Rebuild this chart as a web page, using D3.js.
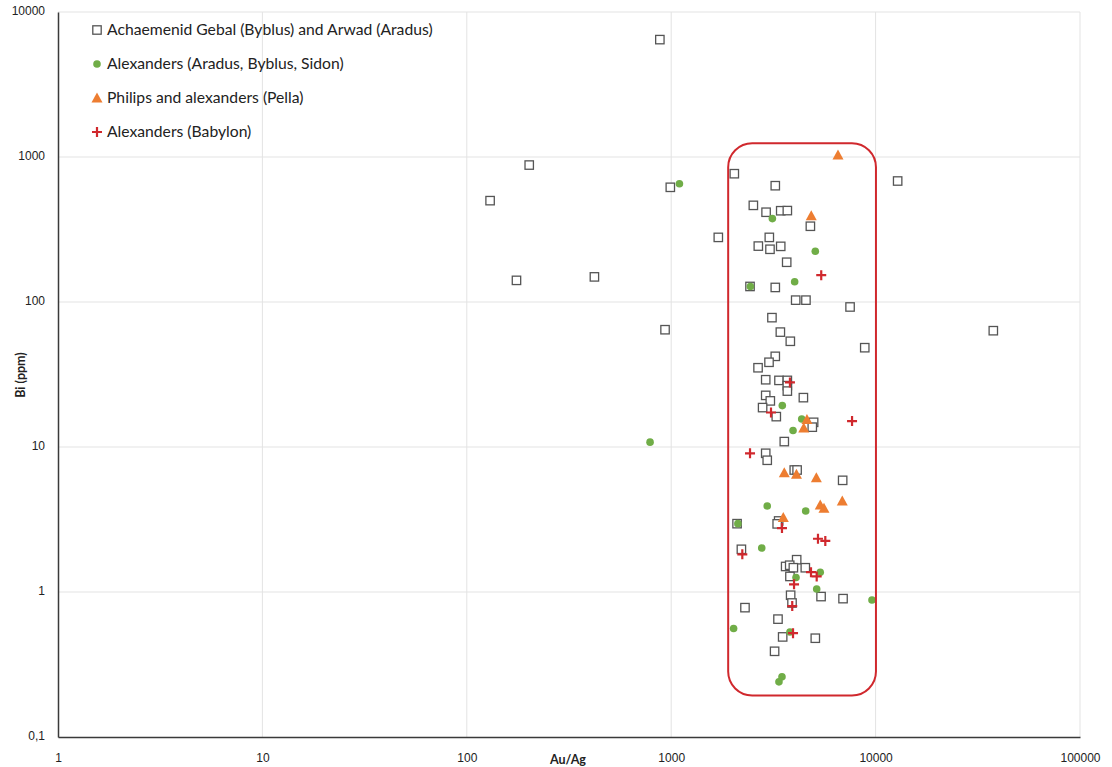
<!DOCTYPE html>
<html>
<head>
<meta charset="utf-8">
<script src="https://cdn.jsdelivr.net/npm/d3@7"></script>
<style>
  body { margin: 0; background: #fff; }
  svg { font-family: Lato, "Open Sans", sans-serif; }
</style>
</head>
<body>
<svg width="1112" height="767"></svg>
<script>
// Achaemenid Gebal (Byblus) and Arwad (Aradus) -- [Au/Ag, Bi]
var achaemenid = [
  [880, 6450], [202, 880], [130, 500], [175, 141], [421, 149], [990, 618], [933, 64.4],
  [2036, 767], [3230, 634], [12820, 683], [2523, 464], [2912, 416], [3434, 426], [3700, 427],
  [4796, 333], [1700, 279], [3020, 279], [2668, 243], [3043, 231], [3434, 242], [3673, 188],
  [2430, 128], [3230, 126], [4065, 103], [4563, 103], [7500, 92.4], [3111, 78], [3420, 62],
  [3826, 53.6], [8850, 48.4], [37660, 63.4], [3230, 42.2], [3010, 38.4], [2660, 35.2],
  [2900, 29.1], [3367, 28.8], [3700, 28.8], [3700, 26.5], [3700, 24.3], [2900, 22.7],
  [3054, 20.8], [4433, 21.9], [2800, 18.7], [3267, 16.2], [4975, 14.8], [4900, 13.7],
  [3575, 10.9], [2900, 9.05], [2950, 8.1], [4000, 6.94], [4130, 6.94], [6900, 5.89],
  [3355, 3.09], [3300, 2.95], [2100, 2.96], [2205, 1.97], [4110, 1.67], [3630, 1.50],
  [3800, 1.53], [3960, 1.47], [4530, 1.47], [3810, 1.28], [3840, 0.95], [5410, 0.93],
  [6930, 0.90], [2296, 0.78], [3900, 0.84], [3330, 0.65], [3510, 0.49], [5070, 0.48],
  [3205, 0.39]
];
// Alexanders (Aradus, Byblus, Sidon)
var alexPhoen = [
  [1097, 654], [3126, 376], [5070, 224], [2440, 128], [4018, 138], [788, 10.8],
  [3496, 19.3], [4350, 15.6], [3945, 13.0], [2950, 3.92], [4550, 3.62], [2120, 2.96],
  [2773, 2.01], [5360, 1.37], [4080, 1.26], [5150, 1.05], [9600, 0.88], [2020, 0.56],
  [3810, 0.53], [3483, 0.26], [3367, 0.24]
];
// Philips and alexanders (Pella)
var pella = [
  [6546, 1032], [4844, 394], [4615, 15.5], [4450, 13.5], [3575, 6.65], [4100, 6.5],
  [5130, 6.14], [6870, 4.24], [5360, 3.98], [5590, 3.78], [3535, 3.27]
];
// Alexanders (Babylon)
var babylon = [
  [5420, 153], [3810, 27.9], [3078, 17.3], [7670, 15.1], [2430, 9.05], [3483, 2.76],
  [5225, 2.33], [5675, 2.25], [2228, 1.82], [4830, 1.37], [5150, 1.28], [3990, 1.13],
  [3910, 0.80], [3945, 0.52]
];

var seriesNames = ["Achaemenid Gebal (Byblus) and Arwad (Aradus)", "Alexanders (Aradus, Byblus, Sidon)",
                   "Philips and alexanders (Pella)", "Alexanders (Babylon)"];
var xTicks = [1, 10, 100, 1000, 10000, 100000];
var yTicks = [0.1, 1, 10, 100, 1000, 10000];
var yTickLabels = ["0,1", "1", "10", "100", "1000", "10000"];
// highlight box: [x min, x max], [y min, y max]
var boxX = [1900, 10040];
var boxY = [0.193, 1245];

var svg = d3.select("svg");
var plotL = 58, plotR = 1080, plotT = 12, plotB = 737;

var x = d3.scaleLog().domain([1, 100000]).range([plotL, plotR]);
var y = d3.scaleLog().domain([0.1, 10000]).range([plotB, plotT]);

// gridlines
svg.append("g").selectAll("line").data(xTicks.slice(1)).enter().append("line")
  .attr("x1", d => x(d)).attr("x2", d => x(d))
  .attr("y1", plotT).attr("y2", plotB)
  .attr("stroke", "#e3e3e3").attr("stroke-width", 1);
svg.append("g").selectAll("line").data(yTicks.slice(1)).enter().append("line")
  .attr("x1", plotL).attr("x2", plotR)
  .attr("y1", d => y(d)).attr("y2", d => y(d))
  .attr("stroke", "#e3e3e3").attr("stroke-width", 1);

// axes
var xAxis = svg.append("g")
  .attr("transform", "translate(0," + plotB + ")")
  .call(d3.axisBottom(x).tickValues(xTicks).tickSize(0).tickPadding(16).tickFormat(d3.format("d")));
var yAxis = svg.append("g")
  .attr("transform", "translate(" + plotL + ",0)")
  .call(d3.axisLeft(y).tickValues(yTicks).tickSize(0).tickPadding(13)
    .tickFormat((d, i) => yTickLabels[i]));
[xAxis, yAxis].forEach(function(a) {
  a.select(".domain").attr("stroke", "#3a3a3a").attr("stroke-width", 1.5);
  a.selectAll("text").attr("fill", "#222").style("font-size", "12px");
});
yAxis.selectAll("text").attr("dy", "0.2em");

svg.append("text").attr("x", 568).attr("y", 764).attr("text-anchor", "middle")
  .style("font-size", "12.5px").style("font-weight", "bold").attr("fill", "#222").text("Au/Ag");
svg.append("text").attr("transform", "translate(25,375) rotate(-90)").attr("text-anchor", "middle")
  .style("font-size", "12.5px").style("font-weight", "bold").attr("fill", "#222").text("Bi (ppm)");

// marker painters
function square(g, cx, cy) {
  g.append("rect").attr("x", cx - 4.2).attr("y", cy - 4.2).attr("width", 8.4).attr("height", 8.4)
    .attr("fill", "#fff").attr("stroke", "#555").attr("stroke-width", 1.3);
}
function circle(g, cx, cy) {
  g.append("circle").attr("cx", cx).attr("cy", cy).attr("r", 3.8).attr("fill", "#70ad47");
}
function triangle(g, cx, cy) {
  g.append("path").attr("d", "M" + cx + "," + (cy - 5.5) + "L" + (cx + 5.5) + "," + (cy + 4.5) +
    "L" + (cx - 5.5) + "," + (cy + 4.5) + "Z").attr("fill", "#ed7d31");
}
function plus(g, cx, cy) {
  g.append("path").attr("d", "M" + (cx - 5) + "," + cy + "H" + (cx + 5) + "M" + cx + "," + (cy - 5) + "V" + (cy + 5))
    .attr("stroke", "#d0282d").attr("stroke-width", 2.2).attr("fill", "none");
}

var painters = [square, circle, triangle, plus];
[achaemenid, alexPhoen, pella, babylon].forEach(function(data, i) {
  var g = svg.append("g");
  data.forEach(function(d) { painters[i](g, x(d[0]), y(d[1])); });
});

// highlight box
svg.append("rect")
  .attr("x", x(boxX[0])).attr("y", y(boxY[1]))
  .attr("width", x(boxX[1]) - x(boxX[0])).attr("height", y(boxY[0]) - y(boxY[1]))
  .attr("rx", 24).attr("ry", 24)
  .attr("fill", "none").attr("stroke", "#d0282d").attr("stroke-width", 2);

// legend
var legend = svg.append("g");
seriesNames.forEach(function(name, i) {
  var ly = 30 + i * 34;
  painters[i](legend, 97, ly);
  legend.append("text").attr("x", 107).attr("y", ly).attr("dy", "0.35em")
    .style("font-size", "15.7px").attr("fill", "#222").text(name);
});
</script>
</body>
</html>
